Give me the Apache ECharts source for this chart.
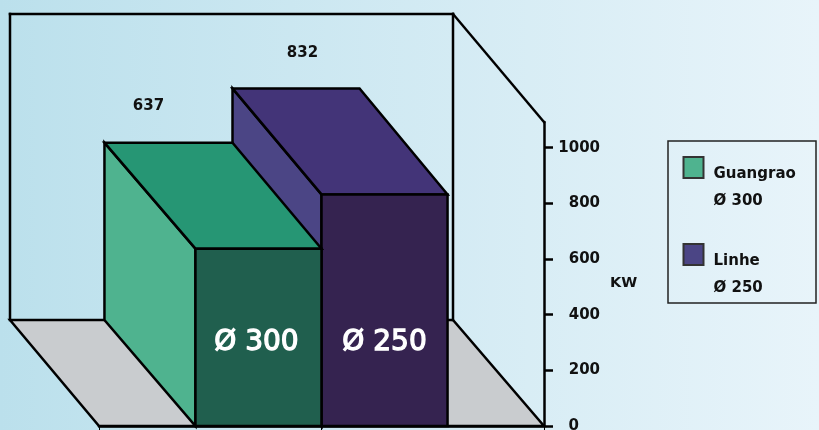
<!DOCTYPE html>
<html>
<head>
<meta charset="utf-8">
<style>html,body{margin:0;padding:0;overflow:hidden}#c{width:819px;height:430px}</style>
<script src="https://cdn.jsdelivr.net/npm/echarts@6/dist/echarts.min.js"></script>
</head>
<body>
<div id="c"></div>
<script>
const categories = ['Guangrao', 'Linhe'];
const diameters = ['Ø 300', 'Ø 250'];
const values = [637, 832];
const tickValues = [0, 200, 400, 600, 800, 1000];
const axisTitle = 'KW';
const axisMax = 1092;

const FONT = '"DejaVu Sans", sans-serif';
const INK = '#000';
const palette = [
  { side: '#4FB38F', top: '#269674', front: '#205F4E', swatch: '#4FB38F' },
  { side: '#4B4585', top: '#433478', front: '#352350', swatch: '#4B4585' }
];
const valueLabelOffset = [[-20, -37], [8, -35]];
const barDepthX = [[91, 89], [89, 88]];

function poly(points, fill) {
  return {
    type: 'polygon',
    shape: { points },
    style: { fill, stroke: INK, lineWidth: 2.5, lineJoin: 'miter' }
  };
}
function line(x1, y1, x2, y2) {
  return { type: 'line', shape: { x1, y1, x2, y2 }, style: { stroke: INK, lineWidth: 2.5, lineCap: 'square' } };
}

function renderFrame(params, api) {
  const band = api.size([1, 0])[0];
  const c0 = api.coord([0, 0]);
  const c1 = api.coord([1, 0]);
  const L = c0[0] - band / 2, R = c1[0] + band / 2, B = c0[1];
  const T = api.coord([0, axisMax])[1];
  const dxL = 89, dxR = 91, dy = 106, wallTop = T - 108;
  return {
    type: 'group',
    children: [
      poly([[L - dxL, B - dy], [R - dxR, B - dy], [R, B], [L, B]], '#C9CCCF'),
      line(L - dxL, wallTop, L - dxL, B - dy),
      line(L - dxL, wallTop, R - dxR, wallTop),
      line(R - dxR, wallTop, R - dxR, B - dy),
      line(R - dxR, wallTop, R, T)
    ]
  };
}

function renderBar(params, api) {
  const i = api.value(0);
  const band = api.size([1, 0])[0];
  const w = band * 0.5665;
  const c = api.coord([i, api.value(1)]);
  const base = api.coord([i, 0])[1];
  const x0 = i === 0 ? c[0] + band / 2 - w : c[0] - band / 2;
  const x1 = x0 + w;
  const y = c[1];
  const dxL = barDepthX[i][0], dxR = barDepthX[i][1], dy = 106;
  const p = palette[i];
  const off = valueLabelOffset[i];
  return {
    type: 'group',
    children: [
      poly([[x0 - dxL, y - dy], [x0, y], [x0, base], [x0 - dxL, base - dy]], p.side),
      poly([[x0 - dxL, y - dy], [x1 - dxR, y - dy], [x1, y], [x0, y]], p.top),
      poly([[x0, y], [x1, y], [x1, base], [x0, base]], p.front),
      {
        type: 'text',
        style: {
          x: (x0 + x1) / 2 - 90 + off[0], y: y - dy + off[1],
          text: String(api.value(1)), fill: '#111', align: 'center', verticalAlign: 'middle',
          font: 'bold 15px ' + FONT
        }
      },
      {
        type: 'text',
        style: {
          x: (x0 + x1) / 2 - (i === 0 ? 2 : 0), y: api.coord([i, 300])[1],
          text: diameters[i], fill: '#fff', stroke: '#fff', lineWidth: 1.3,
          align: 'center', verticalAlign: 'middle',
          font: '28px ' + FONT
        }
      }
    ]
  };
}

function barSeries(i) {
  return {
    type: 'custom',
    name: categories[i],
    renderItem: renderBar,
    data: [[i, values[i]]],
    encode: { x: 0, y: 1 },
    itemStyle: { color: palette[i].swatch, borderColor: '#333', borderWidth: 1.5 },
    z: i === 0 ? 5 : 4,
    animation: false,
    silent: true
  };
}

function legendFor(i, top) {
  return {
    data: [categories[i]],
    left: 682.5,
    top,
    padding: 0,
    icon: 'rect',
    itemWidth: 20,
    itemHeight: 21,
    selectedMode: false,
    formatter: () => '{s| }\n{a|' + categories[i] + '}\n{a|' + diameters[i] + '}',
    textStyle: {
      rich: {
        s: { lineHeight: 41, fontSize: 15, fontFamily: FONT },
        a: { lineHeight: 27, fontSize: 15, fontWeight: 'bold', fontFamily: FONT, color: '#111', padding: [0, 0, 0, 5] }
      }
    }
  };
}

const chart = echarts.init(document.getElementById('c'), null, { renderer: 'canvas' });
chart.setOption({
  animation: false,
  backgroundColor: {
    type: 'linear', x: 0, y: 0, x2: 1, y2: 0,
    colorStops: [{ offset: 0, color: '#BBE0EC' }, { offset: 1, color: '#E8F4FA' }]
  },
  grid: { left: 99, right: 275, top: 122, bottom: 4, outerBoundsMode: 'none' },
  legend: [legendFor(0, 133), legendFor(1, 220)],
  graphic: [{
    type: 'rect',
    shape: { x: 668, y: 141, width: 148, height: 162 },
    style: { fill: 'transparent', stroke: '#222', lineWidth: 1.5 },
    silent: true
  }],
  xAxis: {
    type: 'category',
    data: categories,
    boundaryGap: true,
    axisLine: { lineStyle: { color: INK, width: 2.5 } },
    axisTick: { show: true, length: 4, lineStyle: { color: INK, width: 1 } },
    axisLabel: { show: false }
  },
  yAxis: {
    type: 'value',
    position: 'right',
    min: 0,
    max: axisMax,
    interval: 200,
    name: axisTitle,
    nameLocation: 'middle',
    nameRotate: 0,
    nameGap: 66,
    nameTextStyle: { color: '#111', fontWeight: 'bold', fontSize: 14.5, fontFamily: FONT, verticalAlign: 'top', padding: [2, 0, 0, 0] },
    splitLine: { show: false },
    axisLine: { show: true, lineStyle: { color: INK, width: 2.5 } },
    axisTick: { show: true, length: 9, customValues: tickValues, lineStyle: { color: INK, width: 2.5 } },
    axisLabel: {
      customValues: tickValues,
      margin: 56,
      align: 'right',
      color: '#111',
      fontWeight: 'bold',
      fontSize: 15,
      fontFamily: FONT,
      formatter: v => v === 0 ? '{z|0}' : String(v),
      rich: { z: { color: '#111', fontWeight: 'bold', fontSize: 15, fontFamily: FONT, padding: [0, 21, 0, 0] } }
    }
  },
  series: [
    { type: 'custom', name: 'frame', renderItem: renderFrame, data: [[0, 0]], encode: { x: 0, y: 1 }, z: 3, silent: true },
    barSeries(1),
    barSeries(0)
  ]
});
</script>
</body>
</html>
